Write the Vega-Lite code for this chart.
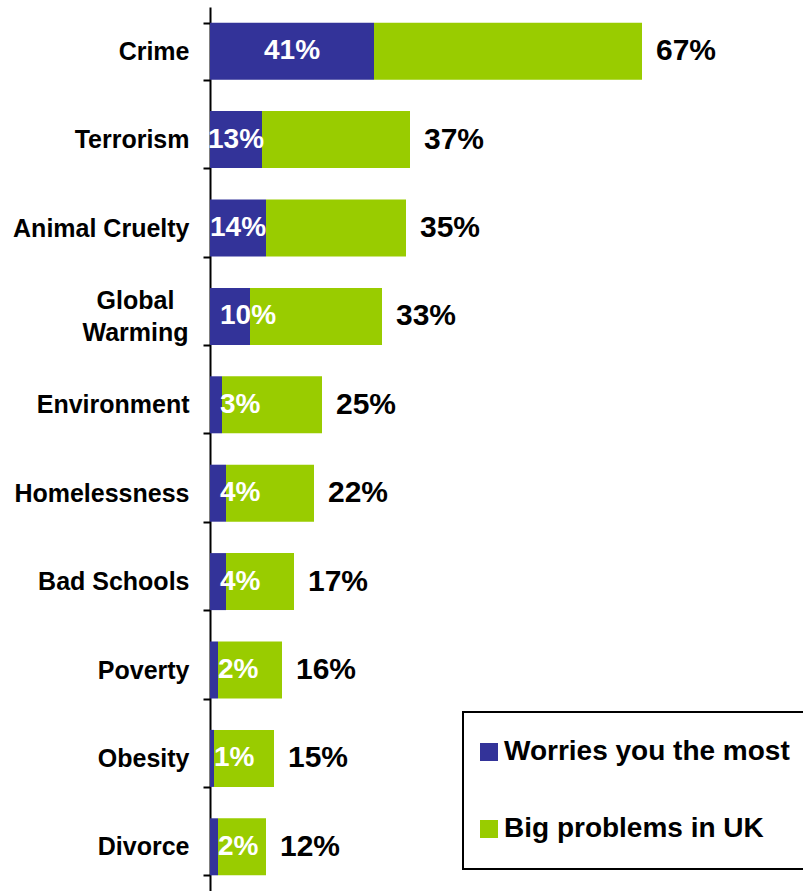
{
  "$schema": "https://vega.github.io/schema/vega-lite/v6.json",
  "width": 593,
  "height": 884,
  "autosize": {"type": "none"},
  "padding": {"left": 210, "top": 7, "right": 0, "bottom": 0},
  "background": "white",
  "config": {"view": {"stroke": null}, "font": "Liberation Sans", "legend": {"strokeWidth": 2}},
  "data": {
    "values": [
      {"cat": "Crime", "worries": 41, "big": 67},
      {"cat": "Terrorism", "worries": 13, "big": 37},
      {"cat": "Animal Cruelty", "worries": 14, "big": 35},
      {"cat": "Global Warming", "worries": 10, "big": 33},
      {"cat": "Environment", "worries": 3, "big": 25},
      {"cat": "Homelessness", "worries": 4, "big": 22},
      {"cat": "Bad Schools", "worries": 4, "big": 17},
      {"cat": "Poverty", "worries": 2, "big": 16},
      {"cat": "Obesity", "worries": 1, "big": 15},
      {"cat": "Divorce", "worries": 2, "big": 12}
    ]
  },
  "transform": [{"calculate": "datum.worries + datum.big", "as": "total"}],
  "encoding": {
    "y": {
      "field": "cat",
      "type": "nominal",
      "sort": null,
      "scale": {
        "domain": ["Crime", "Terrorism", "Animal Cruelty", "Global Warming", "Environment", "Homelessness", "Bad Schools", "Poverty", "Obesity", "Divorce"],
        "paddingInner": 0.355,
        "paddingOuter": 0.1775
      },
      "axis": {
        "title": null,
        "domainColor": "black",
        "domainWidth": 2,
        "tickColor": "black",
        "tickWidth": 2,
        "tickSize": 7,
        "tickBand": "extent",
        "labelFont": "Liberation Sans",
        "labelFontSize": 25,
        "labelFontWeight": "bold",
        "labelColor": "black",
        "labelPadding": {"condition": {"test": "datum.value == 'Global Warming'", "value": 68}, "value": 14},
        "labelAlign": {"condition": {"test": "datum.value == 'Global Warming'", "value": "center"}, "value": "right"},
        "labelOffset": {"condition": {"test": "datum.value == 'Global Warming'", "value": -16}, "value": 0},
        "labelLimit": 300,
        "labelLineHeight": 32,
        "labelExpr": "datum.value == 'Global Warming' ? ['Global', 'Warming'] : datum.value"
      }
    }
  },
  "layer": [
    {
      "transform": [
        {"fold": ["worries", "big"], "as": ["key", "value"]},
        {"calculate": "datum.key == 'worries' ? 'Worries you the most' : 'Big problems in UK'", "as": "series"}
      ],
      "mark": {"type": "bar"},
      "encoding": {
        "x": {
          "field": "value",
          "type": "quantitative",
          "stack": "zero",
          "scale": {"domain": [0, 148.25], "nice": false, "zero": true},
          "axis": null
        },
        "color": {
          "field": "series",
          "type": "nominal",
          "scale": {"domain": ["Worries you the most", "Big problems in UK"], "range": ["#333399", "#99CC00"]},
          "legend": {
            "orient": "none",
            "legendX": 253,
            "legendY": 705,
            "title": null,
            "strokeColor": "black",
            "fillColor": "white",
            "padding": 26,
            "symbolType": "square",
            "symbolSize": 324,
            "symbolStrokeWidth": 0,
            "symbolOffset": -14,
            "labelFont": "Liberation Sans",
            "labelFontSize": 28,
            "labelFontWeight": "bold",
            "labelColor": "black",
            "labelOffset": 1,
            "labelLimit": 400,
            "rowPadding": 49
          }
        },
        "order": {"field": "key", "sort": "descending"}
      }
    },
    {
      "transform": [
        {"filter": "datum.worries >= 11"},
        {"calculate": "datum.worries / 2", "as": "lx"},
        {"calculate": "datum.worries + '%'", "as": "wl"}
      ],
      "mark": {"type": "text", "align": "center", "baseline": "middle", "color": "white", "fontSize": 28, "fontWeight": "bold", "font": "Liberation Sans"},
      "encoding": {
        "x": {"field": "lx", "type": "quantitative", "stack": null},
        "text": {"field": "wl", "type": "nominal"}
      }
    },
    {
      "transform": [
        {"filter": "datum.worries < 11"},
        {"calculate": "min(datum.worries, 2.5)", "as": "lx"},
        {"calculate": "datum.worries + '%'", "as": "wl"}
      ],
      "mark": {"type": "text", "align": "left", "baseline": "middle", "color": "white", "fontSize": 28, "fontWeight": "bold", "font": "Liberation Sans"},
      "encoding": {
        "x": {"field": "lx", "type": "quantitative", "stack": null},
        "text": {"field": "wl", "type": "nominal"}
      }
    },
    {
      "transform": [{"calculate": "datum.big + '%'", "as": "bl"}],
      "mark": {"type": "text", "align": "left", "baseline": "middle", "dx": 14, "color": "black", "fontSize": 30, "fontWeight": "bold", "font": "Liberation Sans"},
      "encoding": {
        "x": {"field": "total", "type": "quantitative", "stack": null},
        "text": {"field": "bl", "type": "nominal"}
      }
    }
  ]
}
